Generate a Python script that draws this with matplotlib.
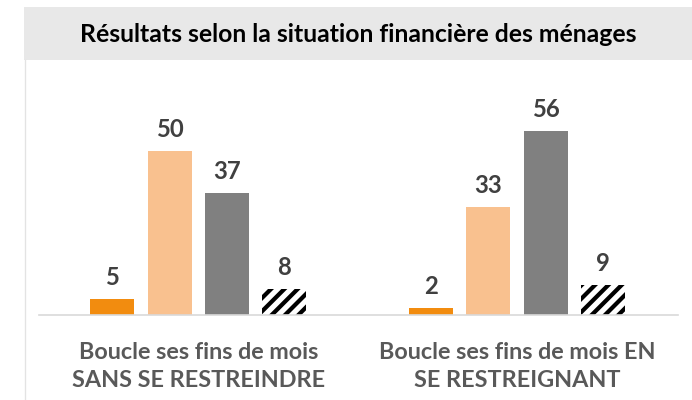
import matplotlib.pyplot as plt
import matplotlib.patches as mpatches
from matplotlib.lines import Line2D
import numpy as np

plt.rcParams['font.family'] = ['Lato', 'DejaVu Sans']
plt.rcParams['hatch.linewidth'] = 3.8

title = "Résultats selon la situation financière des ménages"
categories = ["Boucle ses fins de mois\nSANS SE RESTREINDRE",
              "Boucle ses fins de mois EN\nSE RESTREIGNANT"]
serie_1 = [5, 2]
serie_2 = [50, 33]
serie_3 = [37, 56]
serie_4 = [8, 9]

colors = ['#F28C0F', '#F9C18F', '#808080', 'white']

W, H = 692, 400
fig = plt.figure(figsize=(W / 80, H / 80), dpi=80)

# bandeau du titre
fig.patches.append(mpatches.Rectangle((24 / W, 1 - 60 / H), 1 - 24 / W, 53 / H,
                                      transform=fig.transFigure, facecolor='#E8E8E8',
                                      edgecolor='none', zorder=0))
fig.lines.append(Line2D([25 / W, 25 / W], [0, 1 - 60 / H], transform=fig.transFigure,
                        color='#E3E3E3', lw=1.2))
fig.text((24 + W) / 2 / W, 1 - 34 / H, title, ha='center', va='center',
         fontsize=22.3, fontweight='bold', color='black')

ax = fig.add_axes([39 / W, 1 - 315 / H, (678 - 39) / W, (315 - 75) / H])
x = np.arange(len(categories))
width = 0.138
step = 0.18
series = [serie_1, serie_2, serie_3, serie_4]
for i, vals in enumerate(series):
    pos = x + (i - 1.5) * step
    if i == 3:
        bars = ax.bar(pos, vals, width, color='white', edgecolor='black', hatch='//', lw=0)
    else:
        bars = ax.bar(pos, vals, width, color=colors[i], lw=0)
    for b, v in zip(bars, vals):
        ax.annotate(str(v), (b.get_x() + b.get_width() / 2, v), xytext=(0, 9),
                    textcoords='offset points', ha='center', va='bottom',
                    fontsize=21.5, fontweight='bold', color='#404040')

ax.set_xlim(-0.5, 1.505)
ax.set_ylim(0, 73)
ax.set_yticks([])
ax.set_xticks(x)
ax.set_xticklabels(categories, fontsize=21, fontweight='bold', color='#595959',
                   linespacing=1.45)
ax.tick_params(axis='x', length=0, pad=24)
for s in ['top', 'right', 'left']:
    ax.spines[s].set_visible(False)
ax.spines['bottom'].set_color('#D9D9D9')
ax.spines['bottom'].set_linewidth(1.5)

fig.savefig('out.png', dpi=80)
